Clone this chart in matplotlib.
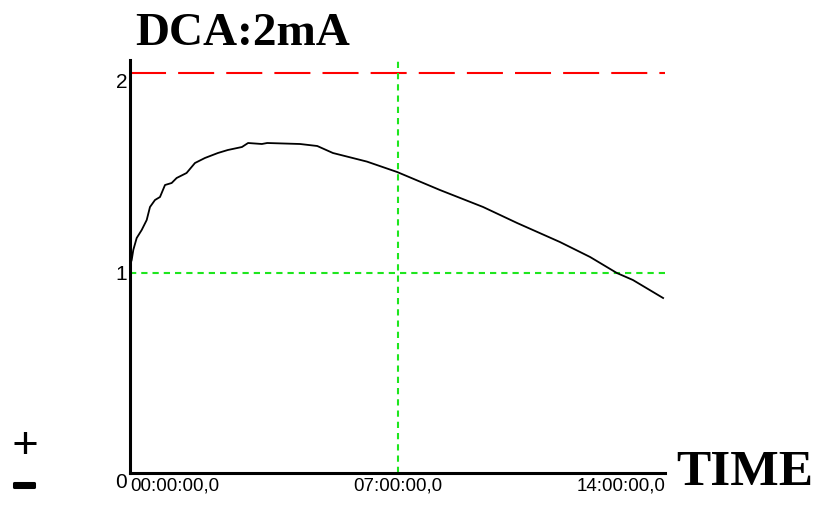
import matplotlib
matplotlib.use("Agg")
import matplotlib.pyplot as plt
import matplotlib.patheffects as pe
from matplotlib.transforms import ScaledTranslation

# ---- data ----
hours = [0.0, 0.044, 0.086, 0.175, 0.306, 0.437, 0.523, 0.654, 0.785, 0.916,
         1.09, 1.22, 1.48, 1.70, 1.96, 2.30, 2.56, 2.93, 3.09, 3.45, 3.59,
         4.45, 4.90, 5.31, 6.20, 6.99, 8.11, 9.24, 10.13, 11.25, 12.04,
         12.74, 13.16, 13.95]
current_ma = [1.04, 1.065, 1.115, 1.175, 1.215, 1.265, 1.33, 1.365, 1.38, 1.44,
              1.45, 1.475, 1.50, 1.55, 1.575, 1.60, 1.615, 1.63, 1.65, 1.645, 1.65,
              1.645, 1.635, 1.60, 1.557, 1.505, 1.415, 1.33, 1.25, 1.155, 1.08,
              1.0, 0.965, 0.875]
x_ticks = [0, 7, 14]
x_tick_labels = ["00:00:00,0", "07:00:00,0", "14:00:00,0"]
y_ticks = [0, 1, 2]
y_tick_labels = ["0", "1", "2"]
limit_ma = 2
guide_ma = 1
guide_hour = 7
title = "DCA:2mA"
xlabel = "TIME"

fig = plt.figure(figsize=(8.16, 5.05), dpi=100)
ax = fig.add_axes([130 / 816, 32 / 505, 535 / 816, 413 / 505])
ax.set_xlim(0, 14)
ax.set_ylim(0, 2.065)

green = "#1ee61e"
ax.axhline(limit_ma, color="#ff0000", lw=1.5, dashes=(17.3, 5.8), zorder=1)
ax.axhline(guide_ma, color=green, lw=1.5, dashes=(3.0, 2.4), zorder=1)
ax.axvline(guide_hour, color=green, lw=1.5, dashes=(3.0, 2.4), zorder=1)

ax.plot(hours, current_ma, color="black", lw=1.3, zorder=3)

for s in ["top", "right"]:
    ax.spines[s].set_visible(False)
for s in ["left", "bottom"]:
    ax.spines[s].set_linewidth(2.2)
    ax.spines[s].set_color("black")

ax.set_xticks(x_ticks)
ax.set_xticklabels(x_tick_labels, family="Liberation Sans", fontsize=13.5)
ax.set_yticks(y_ticks)
ax.set_yticklabels(y_tick_labels, family="Liberation Sans", fontsize=15)
ax.tick_params(axis="both", length=0)
ax.tick_params(axis="x", pad=3)
ax.tick_params(axis="y", pad=2)

for lbl, ha in zip(ax.get_xticklabels(), ["left", "center", "right"]):
    lbl.set_ha(ha)
for lbl, dy in zip(ax.get_yticklabels(), [-8, 0, -7]):
    lbl.set_transform(lbl.get_transform() + ScaledTranslation(0, dy / 100, fig.dpi_scale_trans))

fig.text(135 / 816, 1 - 45 / 505, title, family="Liberation Serif", fontweight="bold",
         fontsize=34, ha="left", va="baseline")
fig.text(676 / 816, 1 - 485 / 505, xlabel, family="Liberation Serif", fontweight="bold",
         fontsize=37, ha="left", va="baseline")
fig.text(25 / 816, 1 - 443 / 505, "+", family="Liberation Serif", fontweight="bold",
         fontsize=34, ha="center", va="center_baseline")
fig.text(24 / 816, 1 - 484 / 505, "\u2212", family="Liberation Sans", fontweight="bold",
         fontsize=28, ha="center", va="center_baseline",
         path_effects=[pe.withStroke(linewidth=2.2, foreground="black")])

fig.savefig("out.png", dpi=100)
